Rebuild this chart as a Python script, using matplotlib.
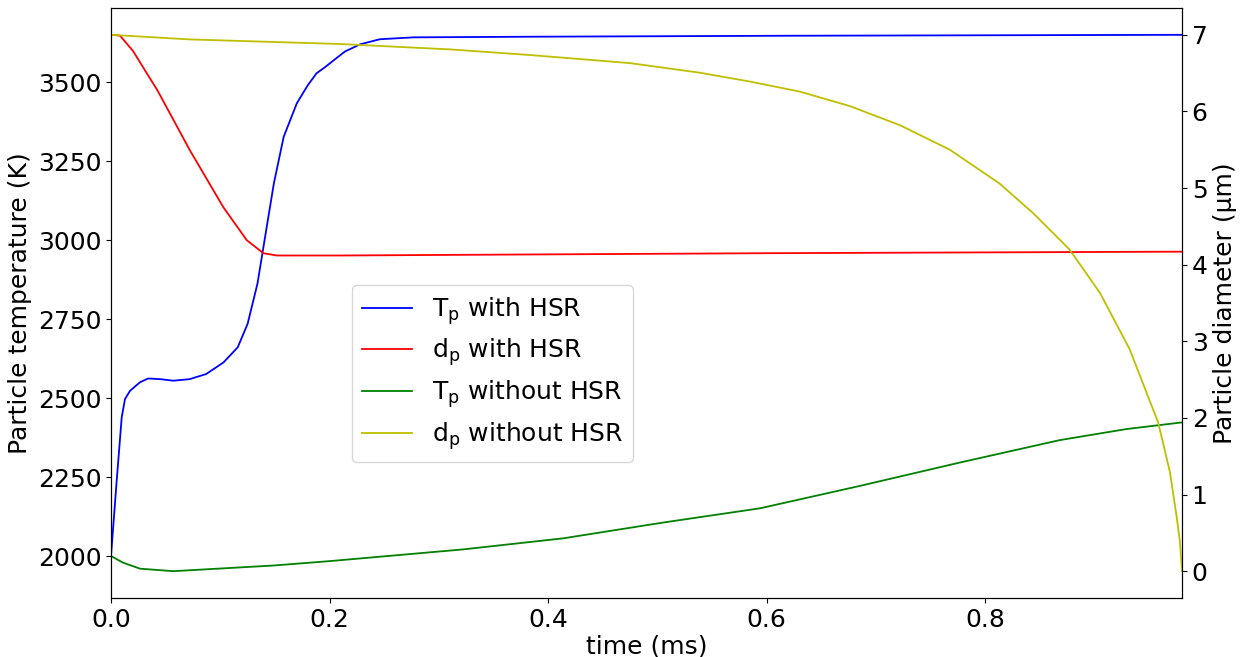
import matplotlib
matplotlib.use("Agg")
import matplotlib.pyplot as plt

# Blue: particle temperature with HSR (K)
t_T_hsr = [0.0, 0.0052, 0.0098, 0.0128, 0.0174, 0.0265, 0.034, 0.045, 0.057, 0.072,
           0.087, 0.103, 0.116, 0.125, 0.134, 0.140, 0.149, 0.158, 0.170, 0.180,
           0.188, 0.196, 0.204, 0.214, 0.228, 0.246, 0.277, 0.384, 0.613, 0.98]
T_hsr = [2000, 2238, 2439, 2497, 2523, 2550, 2562, 2560, 2555, 2560,
         2576, 2613, 2661, 2735, 2862, 2989, 3179, 3327, 3433, 3490,
         3528, 3548, 3570, 3597, 3620, 3636, 3642, 3644, 3647, 3650]

# Red: particle diameter with HSR (um)
t_d_hsr = [0.0, 0.0082, 0.0201, 0.0427, 0.0723, 0.1028, 0.1242, 0.1394, 0.1516,
           0.2097, 0.6, 0.98]
d_hsr = [7.0, 6.99, 6.79, 6.27, 5.49, 4.75, 4.32, 4.15, 4.12,
         4.12, 4.15, 4.17]

# Green: particle temperature without HSR (K)
t_T_no = [0.0, 0.011, 0.0265, 0.057, 0.103, 0.149, 0.2006, 0.3223, 0.4138, 0.5053,
          0.5938, 0.6853, 0.7768, 0.8683, 0.9293, 0.98]
T_no = [2000, 1979, 1960, 1952, 1961, 1970, 1984, 2021, 2056, 2106,
        2151, 2222, 2296, 2367, 2402, 2423]

# Yellow: particle diameter without HSR (um)
t_d_no = [0.0, 0.072, 0.2097, 0.31, 0.3838, 0.4753, 0.539, 0.5846, 0.630, 0.676,
          0.722, 0.7676, 0.813, 0.844, 0.877, 0.905, 0.932, 0.9582, 0.969, 0.975,
          0.978, 0.98]
d_no = [7.0, 6.94, 6.88, 6.81, 6.736, 6.63, 6.505, 6.39, 6.26, 6.07,
        5.82, 5.50, 5.06, 4.67, 4.20, 3.63, 2.90, 1.94, 1.29, 0.72,
        0.4, 0.0]

labels = [r"T$_\mathregular{p}$ with HSR", r"d$_\mathregular{p}$ with HSR",
          r"T$_\mathregular{p}$ without HSR", r"d$_\mathregular{p}$ without HSR"]

fs = 18
fig = plt.figure(figsize=(12.43, 6.57), dpi=100)
ax = fig.add_axes([111/1243, 1 - 598/657, (1182 - 111)/1243, (598 - 8)/657])
ax2 = ax.twinx()

l1, = ax.plot(t_T_hsr, T_hsr, color="b", lw=1.3)
l2, = ax2.plot(t_d_hsr, d_hsr, color="r", lw=1.3)
l3, = ax.plot(t_T_no, T_no, color="g", lw=1.3)
l4, = ax2.plot(t_d_no, d_no, color="y", lw=1.3)

ax.set_xlim(0, 0.98)
ax.set_xlabel("time (ms)", fontsize=fs, labelpad=2)
ax.set_ylabel("Particle temperature (K)", fontsize=fs)
ax2.set_ylabel("Particle diameter (μm)", fontsize=fs)
ax.tick_params(labelsize=fs)
ax2.tick_params(labelsize=fs)
ax.set_yticks([2000, 2250, 2500, 2750, 3000, 3250, 3500])

ax.legend([l1, l2, l3, l4], labels, fontsize=fs, loc="upper left", labelspacing=0.4,
          bbox_to_anchor=((352 - 111)/1071, (598 - 285)/590), borderaxespad=0)

fig.savefig("out.png", dpi=100)
